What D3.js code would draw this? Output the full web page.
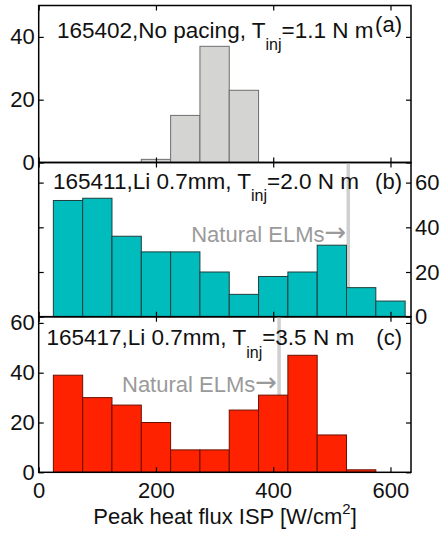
<!DOCTYPE html>
<html>
<head>
<meta charset="utf-8">
<script src="https://cdn.jsdelivr.net/npm/d3@7"></script>
<style>
  body { margin: 0; background: #fff; }
  svg { display: block; }
  text { font-family: "Liberation Sans", Arial, Helvetica, sans-serif; }
</style>
</head>
<body>
<svg id="chart" width="442" height="536"></svg>
<script>
// bin lower edges (W/cm2), width 50
var binStarts = [25, 75, 125, 175, 225, 275, 325, 375, 425, 475, 525, 575];
var countsA = [0, 0, 0, 1, 15, 37, 23, 0, 0, 0, 0, 0];
var countsB = [52, 53, 36, 29, 29, 20, 10, 18, 20, 32, 13, 7];
var countsC = [39, 30, 27, 20, 9, 9, 25, 31, 47, 15, 1, 0];
var xTicks = [0, 200, 400, 600];
var yTicks = [0, 20, 40, 60];
var naturalB = 528, naturalC = 410;

var binWidth = 50;

var svg = d3.select("svg#chart"),
    left = 38.7, right = 411;

var x = d3.scaleLinear().domain([0, 635]).range([left, right]);

var panels = [
  {counts: countsA, top: 5.5, bottom: 162.5, ymax: 50, fill: "#d4d4d2", stroke: "#6e6e6e",
   shot: "165402,No pacing, T", val: "=1.1 N m", tag: "(a)", titleX: 57, titleY: 37.5, tagY: 32,
   yLabels: "left", yTicks: [0, 20, 40], natural: null},
  {counts: countsB, top: 162.5, bottom: 316.7, ymax: 69, fill: "#00bcbc", stroke: "#1f3f3f",
   shot: "165411,Li 0.7mm, T", val: "=2.0 N m", tag: "(b)", titleX: 53, titleY: 188.5, tagY: 188.5,
   yLabels: "right", yTicks: yTicks, natural: naturalB},
  {counts: countsC, top: 316.7, bottom: 472.3, ymax: 62.5, fill: "#ff2200", stroke: "#6a1000",
   shot: "165417,Li 0.7mm, T", val: "=3.5 N m", tag: "(c)", titleX: 46.5, titleY: 345, tagY: 345,
   yLabels: "left", yTicks: yTicks, natural: naturalC}
];

panels.forEach(function(p, idx) {
  var y = d3.scaleLinear().domain([0, p.ymax]).range([p.bottom, p.top]);
  var g = svg.append("g");

  // natural ELM marker behind the bars
  if (p.natural !== null) {
    g.append("line")
      .attr("x1", x(p.natural)).attr("x2", x(p.natural))
      .attr("y1", y(p.ymax)).attr("y2", y(0))
      .attr("stroke", "#cfcfcf")
      .attr("stroke-width", 3.5);
  }

  g.selectAll("rect.bar")
    .data(p.counts.map(function(c, i) { return {x0: binStarts[i], n: c}; })
      .filter(function(d) { return d.n > 0; }))
    .enter().append("rect")
      .attr("class", "bar")
      .attr("x", function(d) { return x(d.x0); })
      .attr("y", function(d) { return y(d.n); })
      .attr("width", function(d) { return x(d.x0 + binWidth) - x(d.x0); })
      .attr("height", function(d) { return y(0) - y(d.n); })
      .attr("fill", p.fill)
      .attr("stroke", p.stroke)
      .attr("stroke-width", 1);

  if (p.natural !== null) {
    var nt = g.append("text")
      .attr("x", x(p.natural) - 2)
      .attr("y", y(0) - (idx == 1 ? 75 : 80.5))
      .attr("text-anchor", "end")
      .attr("fill", "#9a9a9a")
      .style("font-size", "22px");
    nt.append("tspan").text("Natural ELMs");
    nt.append("tspan").style("font-family", "'DejaVu Sans'").style("font-size", "26px")
      .attr("dy", -1).text("\u2192");
  }

  // x ticks, inside, top and bottom
  g.append("g")
    .attr("transform", "translate(0," + p.bottom + ")")
    .call(d3.axisBottom(x).tickValues(xTicks).tickSizeInner(-5).tickSizeOuter(0).tickPadding(10)
      .tickFormat(idx == 2 ? d3.format("d") : ""))
    .call(function(a) { a.select(".domain").remove(); });
  g.append("g")
    .attr("transform", "translate(0," + p.top + ")")
    .call(d3.axisTop(x).tickValues(xTicks).tickSizeInner(-5).tickSizeOuter(0).tickFormat(""))
    .call(function(a) { a.select(".domain").remove(); });

  // y ticks both sides, inside
  var yl = d3.axisLeft(y).tickValues(p.yTicks).tickSizeInner(-5).tickSizeOuter(0).tickPadding(4)
      .tickFormat(p.yLabels == "left" ? d3.format("d") : "");
  var yr = d3.axisRight(y).tickValues(p.yTicks).tickSizeInner(-5).tickSizeOuter(0).tickPadding(4)
      .tickFormat(p.yLabels == "right" ? d3.format("d") : "");
  g.append("g").attr("transform", "translate(" + left + ",0)").call(yl)
    .call(function(a) { a.select(".domain").remove(); });
  g.append("g").attr("transform", "translate(" + right + ",0)").call(yr)
    .call(function(a) { a.select(".domain").remove(); });

  g.append("rect")
    .attr("x", left).attr("y", p.top)
    .attr("width", right - left).attr("height", p.bottom - p.top)
    .attr("fill", "none").attr("stroke", "#000").attr("stroke-width", 1.5);

  var t = g.append("text")
    .attr("x", p.titleX).attr("y", p.titleY)
    .style("font-size", "22.5px").attr("fill", "#111");
  t.append("tspan").text(p.shot);
  t.append("tspan").attr("dy", 12.5).style("font-size", "16px").text("inj");
  t.append("tspan").attr("dy", -12.5).text(p.val);

  g.append("text")
    .attr("x", 402).attr("y", p.tagY)
    .attr("text-anchor", "end")
    .style("font-size", "22px").attr("fill", "#111")
    .text(p.tag);
});

svg.selectAll(".tick text")
  .style("font-size", "22px")
  .style("font-family", "'Liberation Sans', Arial, Helvetica, sans-serif")
  .attr("fill", "#111");
svg.selectAll(".tick line").attr("stroke", "#000").attr("stroke-width", 1.2);

var xl = svg.append("text")
  .attr("x", 225).attr("y", 524)
  .attr("text-anchor", "middle")
  .style("font-size", "22px").attr("fill", "#111");
xl.append("tspan").text("Peak heat flux ISP [W/cm");
xl.append("tspan").attr("dy", -10).style("font-size", "15px").text("2");
xl.append("tspan").attr("dy", 10).text("]");
</script>
</body>
</html>
